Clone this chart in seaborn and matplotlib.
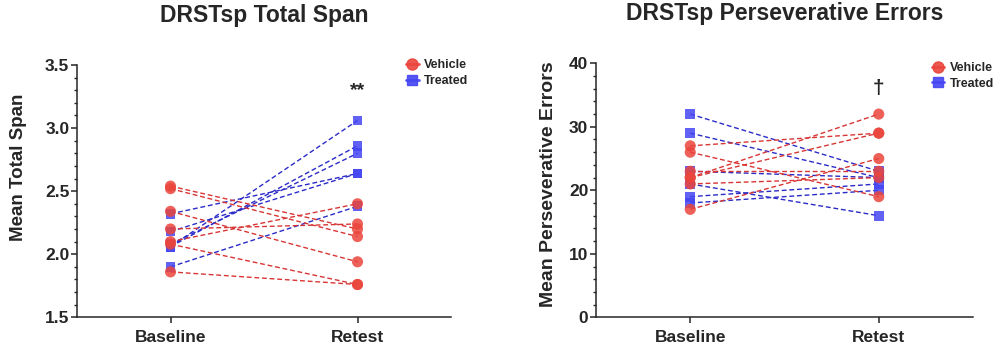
import numpy as np
import pandas as pd
import matplotlib.pyplot as plt
import seaborn as sns
from matplotlib.lines import Line2D
from matplotlib.ticker import MultipleLocator

# --- Data ---
sessions = ['Baseline', 'Retest']
groups = ['Treated', 'Vehicle']

span_vehicle_base = [2.54, 2.52, 2.34, 2.20, 2.10, 2.08, 1.86]
span_vehicle_retest = [2.20, 2.14, 1.94, 2.24, 2.40, 1.76, 1.76]
span_treated_base = [2.32, 2.18, 2.06, 2.06, 2.08, 1.90]
span_treated_retest = [2.64, 2.64, 3.06, 2.86, 2.80, 2.38]

err_vehicle_base = [27, 26, 22, 22, 17, 23, 21]
err_vehicle_retest = [29, 19, 32, 29, 25, 23, 22]
err_treated_base = [32, 29, 23, 21, 19, 18]
err_treated_retest = [23, 22, 22, 16, 21, 20]

# --- Styles ---
marker_colors = {'Vehicle': '#EA453C', 'Treated': '#4545F2'}
line_colors = {'Vehicle': '#D83535', 'Treated': '#2B2BC8'}
markers = {'Vehicle': 'o', 'Treated': 's'}
sizes = {'Vehicle': 64, 'Treated': 50}


def to_long(veh_base, veh_retest, trt_base, trt_retest):
    rows = []
    # treated first so vehicle circles sit on top
    for grp, base, retest in [('Treated', trt_base, trt_retest),
                              ('Vehicle', veh_base, veh_retest)]:
        for i, (b, r) in enumerate(zip(base, retest)):
            rows.append({'subject': f'{grp}_{i}', 'group': grp, 'session': sessions[0], 'value': b})
            rows.append({'subject': f'{grp}_{i}', 'group': grp, 'session': sessions[1], 'value': r})
    return pd.DataFrame(rows)


span_df = to_long(span_vehicle_base, span_vehicle_retest, span_treated_base, span_treated_retest)
err_df = to_long(err_vehicle_base, err_vehicle_retest, err_treated_base, err_treated_retest)

sns.set_style('ticks')
plt.rcParams['font.family'] = ['Liberation Sans', 'DejaVu Sans']
plt.rcParams['font.weight'] = 'bold'

fig = plt.figure(figsize=(10, 3.6), dpi=100)
ax1 = fig.add_axes([0.077, 0.1186, 0.374, 0.7008])
ax2 = fig.add_axes([0.596, 0.1186, 0.377, 0.7056])


def draw_panel(ax, df):
    sns.lineplot(data=df, x='session', y='value', hue='group', units='subject',
                 estimator=None, palette=line_colors, hue_order=groups,
                 linestyle=(0, (3.5, 2)), linewidth=1.0, legend=False, ax=ax)
    sns.scatterplot(data=df, x='session', y='value', hue='group', style='group',
                    size='group', sizes=sizes, markers=markers, palette=marker_colors,
                    hue_order=groups, alpha=0.85, linewidth=0, legend=False,
                    ax=ax, zorder=3)
    ax.set_xlim(-0.5, 1.5)
    ax.set_xlabel('')
    sns.despine(ax=ax)
    for side in ['left', 'bottom']:
        ax.spines[side].set_linewidth(1.1)
    ax.tick_params(axis='y', which='major', length=4, width=1.1, pad=1.5, labelsize=12.5)
    ax.tick_params(axis='y', which='minor', length=2.5, width=1.0)
    ax.tick_params(axis='x', which='major', length=4, width=1.1, pad=5, labelsize=12.5)
    for lab in ax.get_xticklabels() + ax.get_yticklabels():
        lab.set_fontweight('bold')


def add_legend(ax, x, y):
    handles = [Line2D([0], [0], color=marker_colors[g], marker=markers[g],
                      markersize=8 if g == 'Vehicle' else 7, linewidth=2, alpha=0.9)
               for g in ['Vehicle', 'Treated']]
    ax.legend(handles, ['Vehicle', 'Treated'], loc='upper left', bbox_to_anchor=(x, y),
              frameon=False, handlelength=1.0, handletextpad=0.4, borderpad=0,
              borderaxespad=0, labelspacing=0.3, prop={'size': 9, 'weight': 'bold'})


# --- Left: Total Span ---
draw_panel(ax1, span_df)
ax1.set_ylim(1.5, 3.5)
ax1.yaxis.set_major_locator(MultipleLocator(0.5))
ax1.yaxis.set_minor_locator(MultipleLocator(0.1))
ax1.yaxis.set_major_formatter(plt.FormatStrFormatter('%.1f'))
ax1.set_ylabel('Mean Total Span', fontsize=13.5, fontweight='bold')
ax1.yaxis.set_label_coords(-0.135, 0.596)
ax1.set_title('DRSTsp Total Span', fontsize=16.5, fontweight='bold', pad=31)
ax1.text(1, 3.30, '**', ha='center', va='center', fontsize=14, fontweight='bold')
add_legend(ax1, 0.88, 1.023)

# --- Right: Perseverative Errors ---
draw_panel(ax2, err_df)
ax2.set_ylim(0, 40)
ax2.yaxis.set_major_locator(MultipleLocator(10))
ax2.yaxis.set_minor_locator(MultipleLocator(2))
ax2.set_ylabel('Mean Perseverative Errors', fontsize=14, fontweight='bold')
ax2.yaxis.set_label_coords(-0.103, 0.525)
ax2.set_title('DRSTsp Perseverative Errors', fontsize=16.5, fontweight='bold', pad=31)
ax2.text(1, 36, '\u2020', ha='center', va='center', fontsize=15, fontweight='bold')
add_legend(ax2, 0.891, 1.005)

fig.savefig('out.png', dpi=100)
